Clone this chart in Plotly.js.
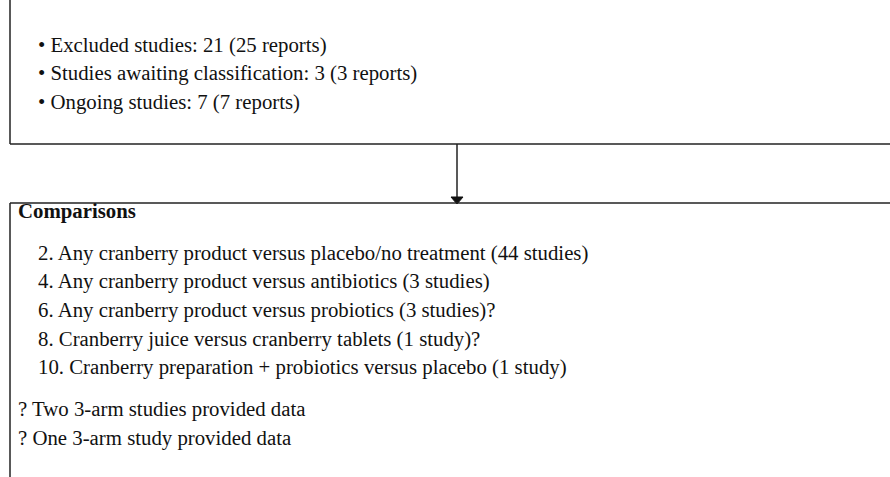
<!DOCTYPE html>
<html>
<head>
<meta charset="utf-8">
<script src="https://cdn.plot.ly/plotly-3.0.1.min.js"></script>
<style>html,body{margin:0;padding:0;background:#fff;}#chart{width:890px;height:477px;}</style>
</head>
<body>
<div id="chart"></div>
<script>
// Flow diagram content
const excludedItems = [
  "• Excluded studies: 21 (25 reports)",
  "• Studies awaiting classification: 3 (3 reports)",
  "• Ongoing studies: 7 (7 reports)"
];
const comparisonsTitle = "Comparisons";
const comparisonItems = [
  "2. Any cranberry product versus placebo/no treatment (44 studies)",
  "4. Any cranberry product versus antibiotics (3 studies)",
  "6. Any cranberry product versus probiotics (3 studies)?",
  "8. Cranberry juice versus cranberry tablets (1 study)?",
  "10. Cranberry preparation + probiotics versus placebo (1 study)"
];
const footnotes = [
  "? Two 3-arm studies provided data",
  "? One 3-arm study provided data"
];

const W = 890, H = 477;
const font = {family: "Liberation Serif, 'Times New Roman', serif", size: 20.8, color: "#111"};
const lineStyle = {color: "#222", width: 1.5};

const annotations = [];
excludedItems.forEach((t, i) => annotations.push({
  x: 36, y: 45 + i * 28.3, xref: "x", yref: "y", text: t, showarrow: false,
  xanchor: "left", yanchor: "middle", font: font
}));
annotations.push({
  x: 16, y: 211, xref: "x", yref: "y", text: "<b>" + comparisonsTitle + "</b>", showarrow: false,
  xanchor: "left", yanchor: "middle", font: font
});
comparisonItems.forEach((t, i) => annotations.push({
  x: 36, y: 252.5 + i * 28.7, xref: "x", yref: "y", text: t, showarrow: false,
  xanchor: "left", yanchor: "middle", font: font
}));
footnotes.forEach((t, i) => annotations.push({
  x: 16, y: 409 + i * 29, xref: "x", yref: "y", text: t, showarrow: false,
  xanchor: "left", yanchor: "middle", font: font
}));

const shapes = [
  // top box
  {type: "line", x0: 10, x1: 10, y0: 0, y1: 144, line: lineStyle},
  {type: "line", x0: 10, x1: W, y0: 144, y1: 144, line: lineStyle},
  // arrow
  {type: "line", x0: 457, x1: 457, y0: 144, y1: 198, line: lineStyle},
  {type: "path", path: "M 451 197 L 463 197 L 457 204 Z", fillcolor: "#111", line: {color: "#111", width: 1}},
  // bottom box
  {type: "line", x0: 10, x1: W, y0: 203, y1: 203, line: lineStyle},
  {type: "line", x0: 10, x1: 10, y0: 203, y1: H, line: lineStyle}
];

const layout = {
  width: W, height: H,
  margin: {l: 0, r: 0, t: 0, b: 0},
  paper_bgcolor: "#fff", plot_bgcolor: "#fff",
  xaxis: {range: [0, W], visible: false, fixedrange: true},
  yaxis: {range: [H, 0], visible: false, fixedrange: true},
  showlegend: false,
  shapes: shapes,
  annotations: annotations
};
Plotly.newPlot("chart", [{x: [], y: [], type: "scatter", mode: "markers"}], layout, {displayModeBar: false, staticPlot: true});
</script>
</body>
</html>
